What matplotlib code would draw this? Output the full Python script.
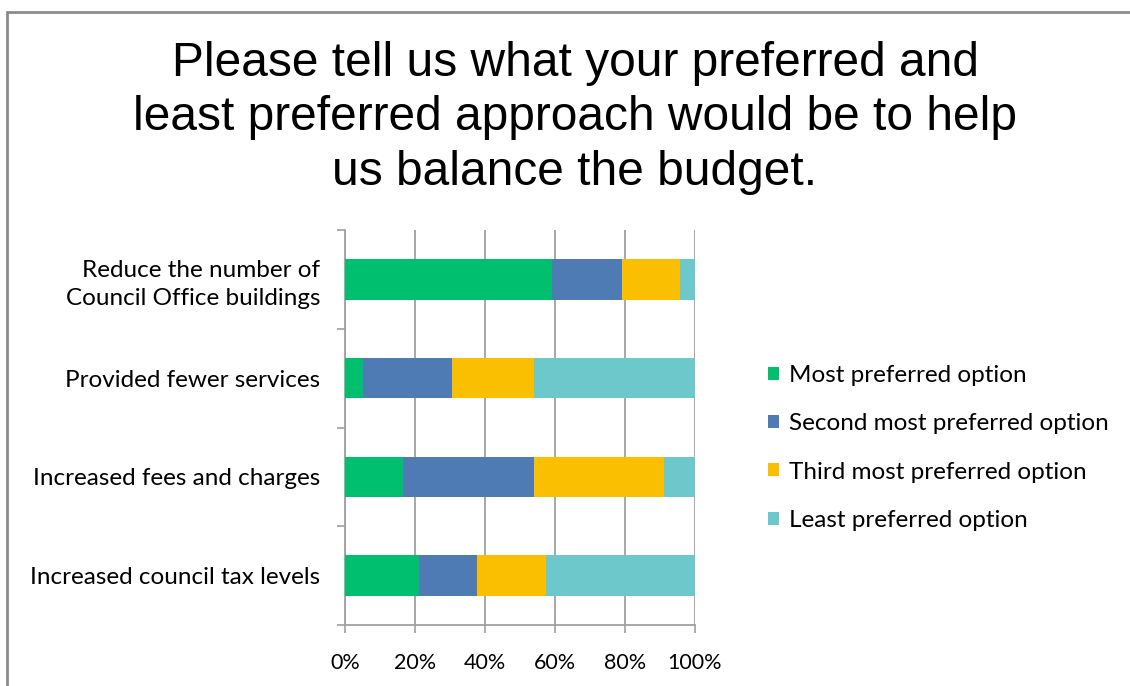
import numpy as np
import matplotlib
matplotlib.use('Agg')
import matplotlib.pyplot as plt
from matplotlib.patches import Rectangle
from matplotlib.ticker import PercentFormatter

# survey answers, share of respondents (%)
categories = ['Increased council tax levels', 'Increased fees and charges',
              'Provided fewer services', 'Reduce the number of\nCouncil Office buildings']
series_names = ['Most preferred option', 'Second most preferred option',
                'Third most preferred option', 'Least preferred option']
most = [21.2, 16.7, 5.2, 59.0]
second = [16.6, 37.3, 25.3, 20.1]
third = [19.6, 37.1, 23.4, 16.6]
least = [42.6, 8.9, 46.1, 4.3]
colors = ['#00bf6f', '#4f7bb5', '#f9bf00', '#6cc8cb']

fig = plt.figure(figsize=(11.3, 6.86), dpi=100)
ax = fig.add_axes([345/1130, 1-625/686, 350/1130, 395/686])

y = np.arange(len(categories))
left = np.zeros(len(categories))
for vals, name, c in zip([most, second, third, least], series_names, colors):
    ax.barh(y, vals, left=left, height=0.41, color=c, label=name, zorder=3)
    left += np.array(vals)

ax.set_xlim(0, 100)
ax.set_ylim(-0.5, len(categories) - 0.5)
ax.set_xticks(np.arange(0, 101, 20))
ax.xaxis.set_major_formatter(PercentFormatter(decimals=0))
ax.set_yticks(y)
ax.set_yticklabels(categories, fontsize=17.5, family='Lato', linespacing=1.4)
ax.set_yticks(np.arange(-0.5, len(categories), 1), minor=True)
ax.tick_params(axis='y', which='major', length=0, pad=18)
ax.tick_params(axis='y', which='minor', length=6, width=1.2, color='#a0a0a0')
ax.tick_params(axis='x', length=6, width=1.2, color='#a0a0a0', labelsize=15.5, pad=14)
for lab in ax.get_xticklabels():
    lab.set_family('Lato')
ax.grid(axis='x', color='#a0a0a0', linewidth=1.3, zorder=0)
for s in ['top', 'right']:
    ax.spines[s].set_visible(False)
for s in ['left', 'bottom']:
    ax.spines[s].set_color('#a0a0a0')
    ax.spines[s].set_linewidth(1.3)

leg = fig.legend(loc='center left', bbox_to_anchor=(768/1130, 1-448/686), frameon=False,
                 prop={'family': 'Lato', 'size': 17.5}, handlelength=0.45, handleheight=0.45,
                 handletextpad=0.4, labelspacing=1.12, borderpad=0, borderaxespad=0)

fig.text(575/1130, 1-118/686, 'Please tell us what your preferred and\nleast preferred approach would be to help\nus balance the budget.',
         ha='center', va='center', fontsize=34.5, family='Liberation Sans', linespacing=1.27)

fig.patches.append(Rectangle((7/1130, -0.1), 1.2, 1-12/686+0.1, transform=fig.transFigure,
                             fill=False, edgecolor='#8c8c8c', linewidth=2))

fig.savefig('out.png', dpi=100, facecolor='white')
